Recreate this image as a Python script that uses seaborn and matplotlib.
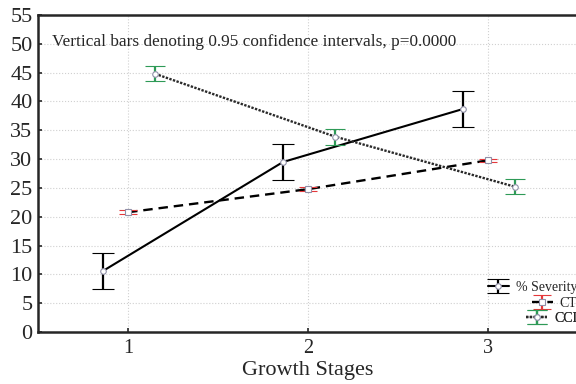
import numpy as np
import pandas as pd
import matplotlib
matplotlib.use("Agg")
import matplotlib.pyplot as plt
import seaborn as sns

sns.set_style("ticks")
plt.rcParams['font.family'] = ['Liberation Serif', 'DejaVu Serif']

# values
stages = [1, 2, 3]
severity = [10.6, 29.5, 38.7]
severity_lo = [7.5, 26.4, 35.6]
severity_hi = [13.7, 32.6, 41.8]
ct = [20.8, 24.8, 29.8]
ct_lo = [20.5, 24.5, 29.5]
ct_hi = [21.1, 25.1, 30.1]
cci = [44.8, 33.9, 25.2]
cci_lo = [43.5, 32.5, 23.9]
cci_hi = [46.2, 35.3, 26.5]

# name, values, low, high, x offset, line colour, line style, bar colour, marker, capsize
series = [
    ("% Severity", severity, severity_lo, severity_hi, -0.14, "black", "-", "black", "o", 8),
    ("CT", ct, ct_lo, ct_hi, 0.0, "black", (0, (4, 2.5)), "#e5383b", "s", 6.5),
    ("CCI", cci, cci_lo, cci_hi, 0.15, "#2a2a2a", (0, (1.0, 0.6)), "#2e9a57", "o", 7.5),
]
legend_y = [0.142, 0.091, 0.044]

fig = plt.figure(figsize=(5.76, 3.84), dpi=100)
ax = fig.add_axes([0.066, 0.135, 0.938, 0.826])

handles = []
for name, vals, lo, hi, off, lc, ls, ec, mk, cs in series:
    df = pd.DataFrame({"stage": np.array(stages) + off, "value": vals})
    sns.lineplot(data=df, x="stage", y="value", ax=ax, color=lc,
                 linestyle=ls, linewidth=1.5 if ls == "-" else 1.7, zorder=2)
    line = ax.get_lines()[-1]
    yerr = [np.array(vals) - np.array(lo), np.array(hi) - np.array(vals)]
    thick = 2.4 if name == "CT" else 1.6
    eb = ax.errorbar(df["stage"], vals, yerr=yerr, fmt=mk, color=ec,
                     ecolor=ec, elinewidth=1.6, capsize=cs, capthick=thick,
                     markersize=4, markerfacecolor="white",
                     markeredgecolor="#9090a8", markeredgewidth=0.8, zorder=3)
    handles.append((line, eb))

ax.set_xlim(0.5, 3.5)
ax.set_ylim(0, 55)
ax.set_xticks(stages)
ax.set_yticks(range(0, 56, 5))
ax.tick_params(direction="in", length=3, width=1.2)
ax.tick_params(axis="y", labelsize=16, pad=4)
ax.tick_params(axis="x", labelsize=14.5, pad=5)
ax.grid(True, linestyle=":", color="#d0d0d0", linewidth=0.8)
for s in ax.spines.values():
    s.set_linewidth(1.8)
ax.set_xlabel("Growth Stages", fontsize=16, labelpad=2)
ax.set_ylabel("")

ax.text(0.026, 0.915, "Vertical bars denoting 0.95 confidence intervals, p=0.0000",
        transform=ax.transAxes, fontsize=12.4, va="center")

# one legend per entry so the rows line up on the right like the original
for h, s, y in zip(handles, series, legend_y):
    leg = ax.legend(handles=[h], labels=[s[0]], loc="center right",
                    bbox_to_anchor=(0.998, y), frameon=False, fontsize=10,
                    handlelength=1.5, handletextpad=0.5, borderaxespad=0,
                    borderpad=0)
    ax.add_artist(leg)

fig.savefig("out.png", dpi=100)
